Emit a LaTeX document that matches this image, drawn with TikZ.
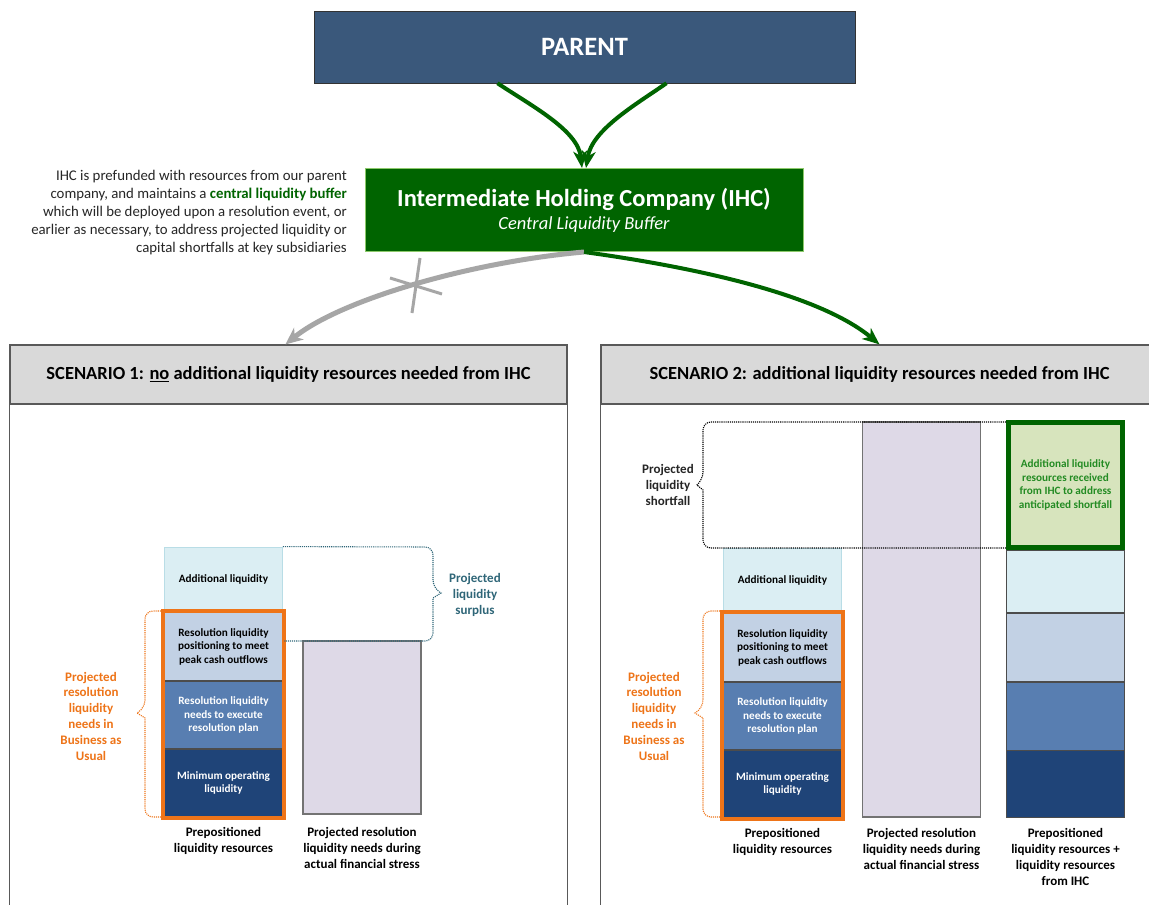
\documentclass[tikz,border=0pt]{standalone}
\usepackage{fontspec}
\setmainfont{Carlito}
\usetikzlibrary{positioning,arrows.meta}

\definecolor{parentblue}{HTML}{3A587B}
\definecolor{ihcgreen}{HTML}{006400}
\definecolor{ihcedge}{HTML}{8DC96B}
\definecolor{headgray}{HTML}{D9D9D9}
\definecolor{panelgray}{HTML}{595959}
\definecolor{addblue}{HTML}{DBEEF3}
\definecolor{addedge}{HTML}{B9DDE6}
\definecolor{posblue}{HTML}{C2D1E4}
\definecolor{exeblue}{HTML}{587EB1}
\definecolor{minblue}{HTML}{1F4478}
\definecolor{needpurple}{HTML}{DED9E7}
\definecolor{bauorange}{HTML}{EE7418}
\definecolor{surplusteal}{HTML}{2F6678}
\definecolor{shortgreen}{HTML}{D7E4BD}
\definecolor{shorttext}{HTML}{238B23}
\definecolor{crossgray}{HTML}{A6A6A6}

\tikzset{
  segment/.style={draw=black!70, line width=0.8, minimum width=118, minimum height=#1,
    inner sep=0, align=center, font=\fontsize{11.2}{13.5}\selectfont\bfseries},
  needbar/.style={draw=black!55, line width=1.2, fill=needpurple, minimum width=118,
    minimum height=#1, inner sep=0},
  header/.style={draw=panelgray, fill=headgray, line width=1.2, minimum width=557,
    minimum height=59, font=\fontsize{18.5}{22}\selectfont\bfseries},
  panelline/.style={draw=panelgray, line width=1.2},
  barlabel/.style={align=center, inner sep=0, font=\fontsize{13}{16}\selectfont\bfseries},
  bracelabel/.style={align=center, inner sep=0, font=\fontsize{13}{15.8}\selectfont\bfseries},
  greenarrow/.style={draw=ihcgreen, line width=4, -{Stealth[length=17,width=14,inset=5]}},
  grayarrow/.style={draw=crossgray, line width=5, -{Stealth[length=17,width=15,inset=5]}},
  orangebox/.style={draw=bauorange, line width=4},
  bracket/.style={densely dotted, line width=1.1, rounded corners=8},
}

\begin{document}
\begin{tikzpicture}[x=1pt,y=-1pt]
  \clip (0,0) rectangle (1149,905);
  \fill[white] (0,0) rectangle (1149,905);

  % parent and IHC
  \node[draw=black!80, fill=parentblue, minimum width=541, minimum height=72,
    text=white, font=\fontsize{26.5}{30}\selectfont\bfseries] (parent) at (584.5,47) {PARENT};
  \node[draw=ihcedge, line width=1, fill=ihcgreen, minimum width=438, minimum height=83,
    text=white, align=center] (ihc) at (584,210)
    {\fontsize{24.5}{26}\selectfont\bfseries Intermediate Holding Company (IHC)\\[5pt]
     \fontsize{18.5}{22}\selectfont\mdseries\itshape Central Liquidity Buffer};
  \node[anchor=east, align=right, inner sep=0, text=black!85,
    font=\fontsize{14.8}{18}\selectfont] (ihcnote) at (347,213)
    {IHC is prefunded with resources from our parent\\
     company, and maintains a \textcolor{ihcgreen}{\bfseries central liquidity buffer}\\
     which will be deployed upon a resolution event, or\\
     earlier as necessary, to address projected liquidity or\\
     capital shortfalls at key subsidiaries};

  \draw[greenarrow] ([xshift=-87]parent.south) .. controls (530,105) and (578,130) .. ([xshift=-2]ihc.north);
  \draw[greenarrow] ([xshift=82]parent.south) .. controls (635,105) and (592,130) .. ([xshift=2]ihc.north);

  % scenario panels
  \node[header] (sc1) at (288.5,374.5)
    {SCENARIO 1: \underline{no} additional liquidity resources needed from IHC};
  \node[header] (sc2) at (879.5,374.5)
    {SCENARIO 2: additional liquidity resources needed from IHC};
  \draw[panelline] (sc1.south west) -- ++(0,520);
  \draw[panelline] (sc1.south east) -- ++(0,520);
  \draw[panelline] (sc2.south west) -- ++(0,520);

  \draw[grayarrow] (ihc.south) .. controls (470,262) and (340,300) .. ([xshift=-3]sc1.north);
  % strike out the grey path
  \draw[crossgray, line width=3] (420,258) -- (412,313);
  \draw[crossgray, line width=3] (390,278) -- (442,294);
  \draw[greenarrow] (ihc.south) .. controls (700,268) and (820,295) .. (sc2.north);

  % scenario 1 bars
  \node[segment=65, fill=addblue, draw=addedge] (s1add) at (223.5,579.5) {Additional liquidity};
  \node[segment=68, fill=posblue, below=0pt of s1add] (s1pos)
    {Resolution liquidity\\positioning to meet\\peak cash outflows};
  \node[segment=67, fill=exeblue, text=white, below=0pt of s1pos] (s1exe)
    {Resolution liquidity\\needs to execute\\resolution plan};
  \node[segment=67, fill=minblue, text=white, below=0pt of s1exe] (s1min)
    {Minimum operating\\liquidity};
  \draw[orangebox] ([shift={(-1.5,-1.5)}]s1pos.north west) rectangle ([shift={(1.5,1.5)}]s1min.south east);
  \node[needbar=173] (s1need) at (362,727.5) {};

  \draw[bracket, draw=surplusteal] (s1add.north east) -- (433,547) -- (433,588)
    [sharp corners] -- (441,593) -- (433,598) [rounded corners=8] -- (433,641) -- (284,641);
  \node[bracelabel, text=surplusteal] (surplus) at (475,595) {Projected\\liquidity\\surplus};

  \draw[bracket, draw=bauorange] (163,611) -- (145,611) -- (145,708)
    [sharp corners] -- (137,713) -- (145,718) [rounded corners=8] -- (145,817) -- (163,817);
  \node[bracelabel, text=bauorange] (bau1) at (91,716)
    {Projected\\resolution\\liquidity\\needs in\\Business as\\Usual};

  \node[barlabel, below=10pt of s1min] (s1prelabel) {Prepositioned\\liquidity resources};
  \node[barlabel, anchor=north] (s1needlabel) at (s1need.south |- s1prelabel.north)
    {Projected resolution\\liquidity needs during\\actual financial stress};

  % scenario 2 bars
  \node[segment=65, fill=addblue, draw=addedge] (s2add) at (782.5,580.5) {Additional liquidity};
  \node[segment=68, fill=posblue, below=0pt of s2add] (s2pos)
    {Resolution liquidity\\positioning to meet\\peak cash outflows};
  \node[segment=67, fill=exeblue, text=white, below=0pt of s2pos] (s2exe)
    {Resolution liquidity\\needs to execute\\resolution plan};
  \node[segment=67, fill=minblue, text=white, below=0pt of s2exe] (s2min)
    {Minimum operating\\liquidity};
  \draw[orangebox] ([shift={(-1.5,-1.5)}]s2pos.north west) rectangle ([shift={(1.5,1.5)}]s2min.south east);
  \node[needbar=395] (s2need) at (921.5,619.5) {};

  \node[draw=ihcgreen, line width=5, fill=shortgreen, minimum width=114, minimum height=125,
    inner sep=0, align=center, text=shorttext, font=\fontsize{11.2}{13.5}\selectfont\bfseries]
    (s2ihc) at (1065.5,485)
    {Additional liquidity\\resources received\\from IHC to address\\anticipated shortfall};
  \node[segment=62, fill=addblue, below=0pt of s2ihc] (s2tadd) {};
  \node[segment=68, fill=posblue, below=0pt of s2tadd] (s2tpos) {};
  \node[segment=68, fill=exeblue, below=0pt of s2tpos] (s2texe) {};
  \node[segment=67, fill=minblue, below=0pt of s2texe] (s2tmin) {};

  \draw[bracket, draw=black] (1006,422) -- (703,422) -- (703,480)
    [sharp corners] -- (697,485) -- (703,490) [rounded corners=8] -- (703,548) -- (1006,548);
  \node[bracelabel, text=black!85] (shortfall) at (668,485) {Projected\\liquidity\\shortfall};

  \draw[bracket, draw=bauorange] (722,611) -- (703,611) -- (703,708)
    [sharp corners] -- (695,713) -- (703,718) [rounded corners=8] -- (703,817) -- (722,817);
  \node[bracelabel, text=bauorange] (bau2) at (654,716)
    {Projected\\resolution\\liquidity\\needs in\\Business as\\Usual};

  \node[barlabel, below=10pt of s2min] (s2prelabel) {Prepositioned\\liquidity resources};
  \node[barlabel, anchor=north] (s2needlabel) at (s2need.south |- s2prelabel.north)
    {Projected resolution\\liquidity needs during\\actual financial stress};
  \node[barlabel, anchor=north] (s2totlabel) at (s2tmin.south |- s2prelabel.north)
    {Prepositioned\\liquidity resources +\\liquidity resources\\from IHC};
\end{tikzpicture}
\end{document}
